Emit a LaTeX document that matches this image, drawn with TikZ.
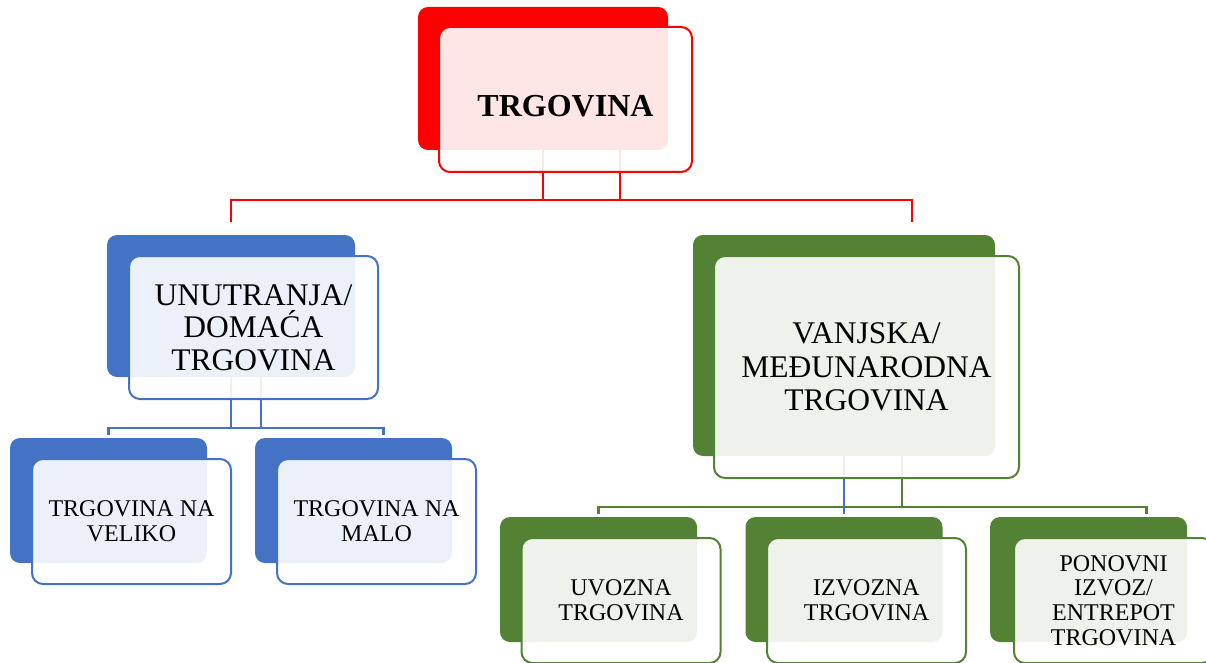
\documentclass[tikz,border=0pt]{standalone}
\usepackage{fontspec}
\setmainfont{Liberation Serif}
\usepackage{tikz}
\tikzstyle{back} = [rectangle,rounded corners=10pt,inner sep=0pt]
\tikzstyle{front} = [rectangle,rounded corners=11pt,draw,line width=2pt,fill=white,fill opacity=0.9,text opacity=1,text=black,align=center,inner sep=0pt]
\tikzstyle{link} = [line width=2.3pt]
\definecolor{topred}{RGB}{255,0,0}
\definecolor{domblue}{RGB}{68,114,196}
\definecolor{vangreen}{RGB}{84,130,53}

\begin{document}
\begin{tikzpicture}[x=1pt,y=1pt]
		\useasboundingbox (0,0) rectangle (1206,-663);
		\clip (0,0) rectangle (1206,-663);
		\node [back,fill=topred,minimum width=250pt,minimum height=143pt](tb) at (543,-78.5){};
		\node [back,fill=domblue,minimum width=248pt,minimum height=142pt](ub) at (231,-306){};
		\node [back,fill=vangreen,minimum width=302pt,minimum height=221pt](vb) at (844,-345.5){};
		\node [back,fill=domblue,minimum width=197pt,minimum height=125pt](velb) at (108.5,-500.5){};
		\node [back,fill=domblue,minimum width=197pt,minimum height=125pt](malb) at (353.5,-500.5){};
		\node [back,fill=vangreen,minimum width=197pt,minimum height=125pt](uvob) at (598.5,-579.5){};
		\node [back,fill=vangreen,minimum width=197pt,minimum height=125pt](izvb) at (844,-579.5){};
		\node [back,fill=vangreen,minimum width=197pt,minimum height=125pt](ponb) at (1088.5,-579.5){};
		
		\draw[-,link,topred]([xshift=77pt]tb.south)|-([yshift=35pt]ub.north)--([yshift=13pt]ub.north);
		\draw[-,link,topred](tb.south)|-([xshift=68pt,yshift=35pt]vb.north)--([xshift=68pt,yshift=13pt]vb.north);
		\draw[-,link,domblue]([xshift=30pt]ub.south)|-([yshift=10pt]velb.north)--([yshift=3pt]velb.north);
		\draw[-,link,domblue](ub.south)|-([xshift=30pt,yshift=10pt]malb.north)--([xshift=30pt,yshift=3pt]malb.north);
		\draw[-,link,vangreen]([xshift=58pt]vb.south)|-([yshift=10pt]uvob.north)--([yshift=3pt]uvob.north);
		\draw[-,link,vangreen]([xshift=58pt]vb.south)|-([xshift=58pt,yshift=10pt]ponb.north)--([xshift=58pt,yshift=3pt]ponb.north);
		\draw[-,link,domblue](vb.south)--([yshift=3pt]izvb.north);
		
		\node [front,draw=topred,minimum width=253pt,minimum height=145pt,xshift=22.5pt,yshift=-21pt,font=\fontsize{32}{36}\selectfont\bfseries,text height=35pt,text depth=0pt](t) at (tb){TRGOVINA};
		\node [front,draw=domblue,minimum width=249pt,minimum height=143pt,xshift=22.5pt,yshift=-21.5pt,font=\fontsize{31.5}{32.5}\selectfont](u) at (ub){UNUTRANJA/\\DOMAĆA\\TRGOVINA};
		\node [front,draw=vangreen,minimum width=305pt,minimum height=222pt,xshift=22.5pt,yshift=-21.5pt,font=\fontsize{31.5}{33.3}\selectfont](v) at (vb){VANJSKA/\\MEĐUNARODNA\\TRGOVINA};
		\node [front,draw=domblue,minimum width=199pt,minimum height=125pt,xshift=23pt,yshift=-21pt,font=\fontsize{24}{24.7}\selectfont](vel) at (velb){TRGOVINA NA\\VELIKO};
		\node [front,draw=domblue,minimum width=199pt,minimum height=125pt,xshift=23pt,yshift=-21pt,font=\fontsize{24}{24.7}\selectfont](mal) at (malb){TRGOVINA NA\\MALO};
		\node [front,draw=vangreen,minimum width=199pt,minimum height=125pt,xshift=22.5pt,yshift=-21pt,font=\fontsize{24}{24.7}\selectfont](uvo) at (uvob){UVOZNA\\TRGOVINA};
		\node [front,draw=vangreen,minimum width=199pt,minimum height=125pt,xshift=22.5pt,yshift=-21pt,font=\fontsize{24}{24.7}\selectfont](izv) at (izvb){IZVOZNA\\TRGOVINA};
		\node [front,draw=vangreen,minimum width=199pt,minimum height=125pt,xshift=25pt,yshift=-21pt,font=\fontsize{24}{24.7}\selectfont](pon) at (ponb){PONOVNI\\IZVOZ/\\ENTREPOT\\TRGOVINA};
\end{tikzpicture}
\end{document}
